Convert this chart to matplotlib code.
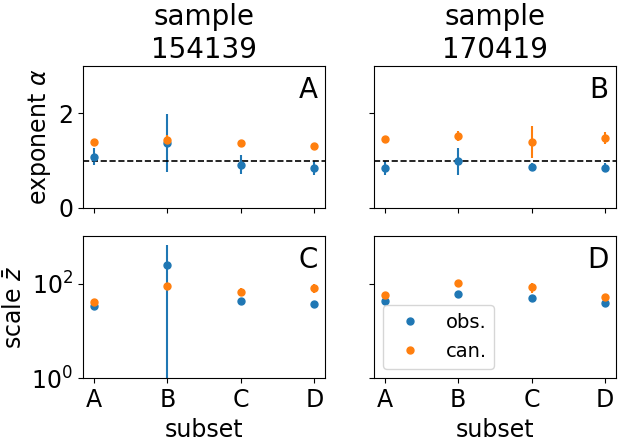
import matplotlib.pyplot as plt
import numpy as np

#--- Values
subsets = ['A', 'B', 'C', 'D']
samples = ['154139', '170419']

alpha_obs_154139 = [1.085, 1.375, 0.915, 0.84]
alpha_obs_err_154139 = [0.17, 0.61, 0.2, 0.15]
alpha_can_154139 = [1.39, 1.43, 1.37, 1.30]
alpha_can_err_154139 = [0.03, 0.1, 0.04, 0.03]

alpha_obs_170419 = [0.85, 0.985, 0.87, 0.85]
alpha_obs_err_170419 = [0.15, 0.29, 0.08, 0.1]
alpha_can_170419 = [1.45, 1.52, 1.39, 1.48]
alpha_can_err_170419 = [0.03, 0.1, 0.33, 0.12]

zbar_obs_154139 = [33, 251, 43, 37]
zbar_obs_err_154139 = [3, 395, 4, 3]
zbar_can_154139 = [41, 91, 68, 80]
zbar_can_err_154139 = [3, 8, 12, 18]

zbar_obs_170419 = [42, 61, 50, 39]
zbar_obs_err_170419 = [3, 10, 4, 3]
zbar_can_170419 = [57, 101, 85, 52]
zbar_can_err_170419 = [5, 6, 20, 4]

alpha_obs = [alpha_obs_154139, alpha_obs_170419]
alpha_obs_err = [alpha_obs_err_154139, alpha_obs_err_170419]
alpha_can = [alpha_can_154139, alpha_can_170419]
alpha_can_err = [alpha_can_err_154139, alpha_can_err_170419]
zbar_obs = [zbar_obs_154139, zbar_obs_170419]
zbar_obs_err = [zbar_obs_err_154139, zbar_obs_err_170419]
zbar_can = [zbar_can_154139, zbar_can_170419]
zbar_can_err = [zbar_can_err_154139, zbar_can_err_170419]

panel_letters = [['A', 'B'], ['C', 'D']]

#--- Plot
fig, axes = plt.subplots(2, 2, figsize=(6.23, 4.42), dpi=100, sharex=True, sharey='row')
fig.subplots_adjust(left=0.133, right=0.989, top=0.851, bottom=0.144, wspace=0.198, hspace=0.2)

x = np.arange(len(subsets))
ms = 5

for j in range(2):
    ax = axes[0, j]
    ax.errorbar(x, alpha_obs[j], yerr=alpha_obs_err[j], fmt='o', ms=ms, color='tab:blue', label='obs.')
    ax.errorbar(x, alpha_can[j], yerr=alpha_can_err[j], fmt='o', ms=ms, color='tab:orange', label='can.')
    ax.axhline(1, color='k', ls='--', lw=1.2)
    ax.set_ylim(0, 3)
    ax.set_yticks([0, 2])
    ax.set_title(f"sample\n{samples[j]}", fontsize=20)

    ax = axes[1, j]
    ax.errorbar(x, zbar_obs[j], yerr=zbar_obs_err[j], fmt='o', ms=ms, color='tab:blue', label='obs.')
    ax.errorbar(x, zbar_can[j], yerr=zbar_can_err[j], fmt='o', ms=ms, color='tab:orange', label='can.')
    ax.set_yscale('log')
    ax.set_ylim(1, 1e3)
    ax.set_yticks([1, 100])
    ax.minorticks_off()
    ax.set_xlabel("subset", fontsize=17)

for i in range(2):
    for j in range(2):
        ax = axes[i, j]
        ax.text(0.97, 0.93, panel_letters[i][j], transform=ax.transAxes, ha='right', va='top', fontsize=20)
        ax.tick_params(labelsize=17)

axes[1, 0].set_xticks(x)
axes[1, 0].set_xticklabels(subsets)
axes[0, 0].set_ylabel(r"exponent $\alpha$", fontsize=17)
axes[1, 0].set_ylabel(r"scale $\bar{z}$", fontsize=17)

# legend shows only the markers
handles, labels = axes[1, 1].get_legend_handles_labels()
axes[1, 1].legend([h[0] for h in handles], labels, loc='lower left', fontsize=14)

plt.savefig("out.png", dpi=100)
plt.close()
